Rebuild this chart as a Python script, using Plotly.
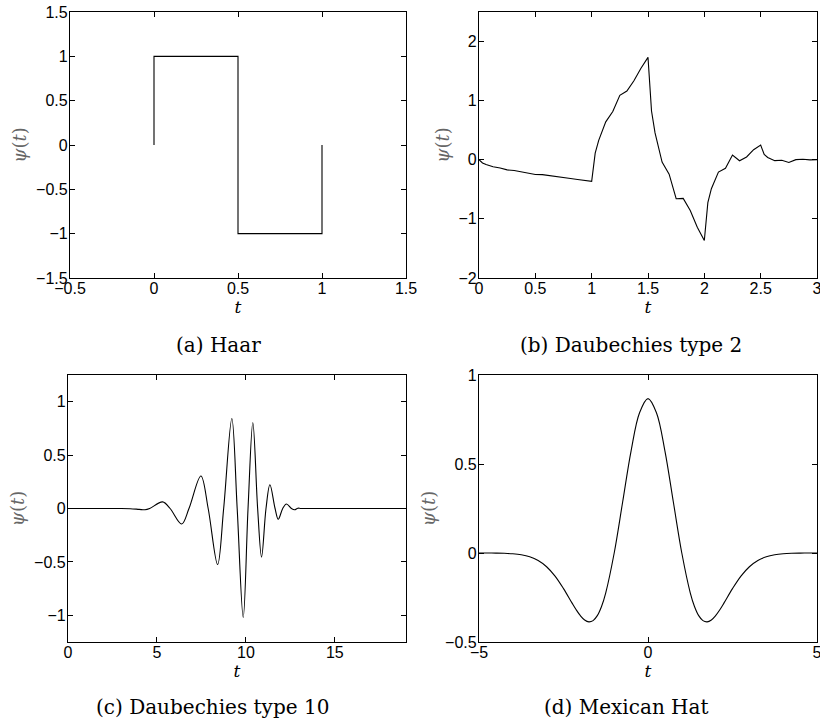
import plotly.graph_objects as go

# ---------------- data ----------------
haar_t = [0, 0, 0.5, 0.5, 1, 1]
haar_psi = [0, 1, 1, -1, -1, 0]

db2_t = [0, 0.03125, 0.0625, 0.125, 0.1875, 0.25, 0.3125, 0.375, 0.4375, 0.5,
         0.5625, 0.625, 0.6875, 0.75, 0.8125, 0.875, 0.9375, 1, 1.03125, 1.0625,
         1.125, 1.1875, 1.25, 1.3125, 1.375, 1.4375, 1.5, 1.53125, 1.5625, 1.625,
         1.6875, 1.75, 1.8125, 1.875, 1.9375, 2, 2.03125, 2.0625, 2.125, 2.1875,
         2.25, 2.3125, 2.375, 2.4375, 2.5, 2.53125, 2.5625, 2.625, 2.6875, 2.75,
         2.8125, 2.875, 2.9375, 3]
db2_psi = [0, -0.0544, -0.0797, -0.1166, -0.1380, -0.1708, -0.1807, -0.2020, -0.2275, -0.2500,
           -0.2515, -0.2645, -0.2817, -0.2958, -0.3160, -0.3331, -0.3492, -0.3660, 0.1114, 0.3284,
           0.6417, 0.8156, 1.0915, 1.1632, 1.3370, 1.5482, 1.7321, 0.8251, 0.4545, -0.0380,
           -0.2431, -0.6585, -0.6532, -0.8583, -1.1403, -1.3660, -0.7249, -0.4898, -0.2081, -0.1441,
           0.0792, -0.0160, 0.0480, 0.1703, 0.2500, 0.0896, 0.0381, -0.0145, -0.0088, -0.0458,
           0.0027, 0.0084, -0.0015, 0]

db10_t = [0, 1, 2, 3, 3.5, 4.0, 4.33, 4.59, 5.32, 5.74, 6.39, 6.80, 7.47, 7.88, 8.41,
          8.75, 9.21, 9.51, 9.85, 10.12, 10.39, 10.66, 10.88, 11.13, 11.35, 11.64, 11.82,
          12.07, 12.28, 12.56, 12.74, 12.92, 13.1, 14, 15, 16, 17, 18, 19]
db10_psi = [0, 0, 0, 0, -0.002, -0.008, -0.012, 0, 0.062, 0, -0.145, 0, 0.305, 0, -0.525,
            0, 0.843, 0, -1.02, 0, 0.805, 0, -0.455, 0, 0.222, 0, -0.10,
            0, 0.042, 0, -0.012, 0.003, 0, 0, 0, 0, 0, 0, 0]

mh_t = [-5, -4.75, -4.5, -4.25, -4, -3.75, -3.5, -3.25, -3, -2.75, -2.5, -2.25, -2.125, -2,
        -1.875, -1.75, -1.625, -1.5, -1.375, -1.25, -1, -0.75, -0.5, -0.25, 0,
        0.25, 0.5, 0.75, 1, 1.25, 1.375, 1.5, 1.625, 1.75, 1.875, 2, 2.125, 2.25,
        2.5, 2.75, 3, 3.25, 3.5, 3.75, 4, 4.25, 4.5, 4.75, 5]
mh_psi = [-0.0001, -0.0002, -0.0007, -0.0018, -0.0044, -0.0100, -0.0213, -0.0422, -0.0771,
          -0.1297, -0.2001, -0.2803, -0.3189, -0.3521, -0.3762, -0.3869, -0.3800, -0.3520,
          -0.3002, -0.2234, 0, 0.2864, 0.5741, 0.7881, 0.8673,
          0.7881, 0.5741, 0.2864, 0, -0.2234, -0.3002, -0.3520, -0.3800, -0.3869, -0.3762,
          -0.3521, -0.3189, -0.2803, -0.2001, -0.1297, -0.0771, -0.0422, -0.0213, -0.0100,
          -0.0044, -0.0018, -0.0007, -0.0002, -0.0001]

captions = ["(a) Haar", "(b) Daubechies type 2", "(c) Daubechies type 10", "(d) Mexican Hat"]

xticks = [[-0.5, 0, 0.5, 1, 1.5], [0, 0.5, 1, 1.5, 2, 2.5, 3], [0, 5, 10, 15], [-5, 0, 5]]
yticks = [[-1.5, -1, -0.5, 0, 0.5, 1, 1.5], [-2, -1, 0, 1, 2], [-1, -0.5, 0, 0.5, 1], [-0.5, 0, 0.5, 1]]
xranges = [[-0.5, 1.5], [0, 3], [0, 19], [-5, 5]]
yranges = [[-1.5, 1.5], [-2, 2.5], [-1.25, 1.25], [-0.5, 1]]

# ---------------- figure ----------------
W, H = 820, 724
fig = go.Figure()

series = [(haar_t, haar_psi, "linear"), (db2_t, db2_psi, "linear"),
          (db10_t, db10_psi, "spline"), (mh_t, mh_psi, "spline")]
for i, (tx, ty, shape) in enumerate(series):
    sfx = "" if i == 0 else str(i + 1)
    fig.add_trace(go.Scatter(x=tx, y=ty, mode="lines",
                             line=dict(color="black", width=1.1, shape=shape),
                             xaxis="x" + sfx, yaxis="y" + sfx, showlegend=False,
                             hoverinfo="skip"))

# pixel boxes (left, right, top, bottom)
boxes = [(70, 406, 12, 278), (479, 817, 12, 278), (68, 406, 375, 642), (479, 817, 375, 642)]

tickfont = dict(family="Liberation Sans, Arial, sans-serif", size=16, color="black")
axbase = dict(showline=True, linecolor="black", linewidth=1.2, mirror="ticks",
              ticks="inside", ticklen=5, tickwidth=1, tickcolor="black",
              showgrid=False, zeroline=False, tickfont=tickfont, fixedrange=True,
              automargin=False, ticklabeloverflow="allow")

layout = dict(width=W, height=H, margin=dict(l=0, r=0, t=0, b=0, autoexpand=False),
              paper_bgcolor="white", plot_bgcolor="white", showlegend=False)

for i, (l, r, t, b) in enumerate(boxes):
    sfx = "" if i == 0 else str(i + 1)
    xa = dict(axbase, domain=[l / W, r / W], range=xranges[i], tickmode="array",
              tickvals=xticks[i], anchor="y" + sfx, ticklabelstandoff=-4,
              title=dict(text="<i>t</i>", standoff=1,
                         font=dict(family="DejaVu Serif, serif", size=17, color="black")))
    ya = dict(axbase, domain=[1 - b / H, 1 - t / H], range=yranges[i], tickmode="array",
              tickvals=yticks[i], anchor="x" + sfx, ticklabelstandoff=-2,
              title=dict(text="<i>ψ</i>(<i>t</i>)", standoff=4,
                         font=dict(family="DejaVu Serif, serif", size=18, color="#666666")))
    layout["xaxis" + sfx] = xa
    layout["yaxis" + sfx] = ya

cap_pos = [(218, 345), (631, 345), (212, 707), (626, 707)]
annotations = []
for (cx, cy), txt in zip(cap_pos, captions):
    annotations.append(dict(text=txt, x=cx / W, y=1 - cy / H, xref="paper", yref="paper",
                            xanchor="center", yanchor="middle", showarrow=False,
                            font=dict(family="DejaVu Serif, serif", size=20, color="black")))
layout["annotations"] = annotations

fig.update_layout(**layout)
fig.write_html("out.html")
